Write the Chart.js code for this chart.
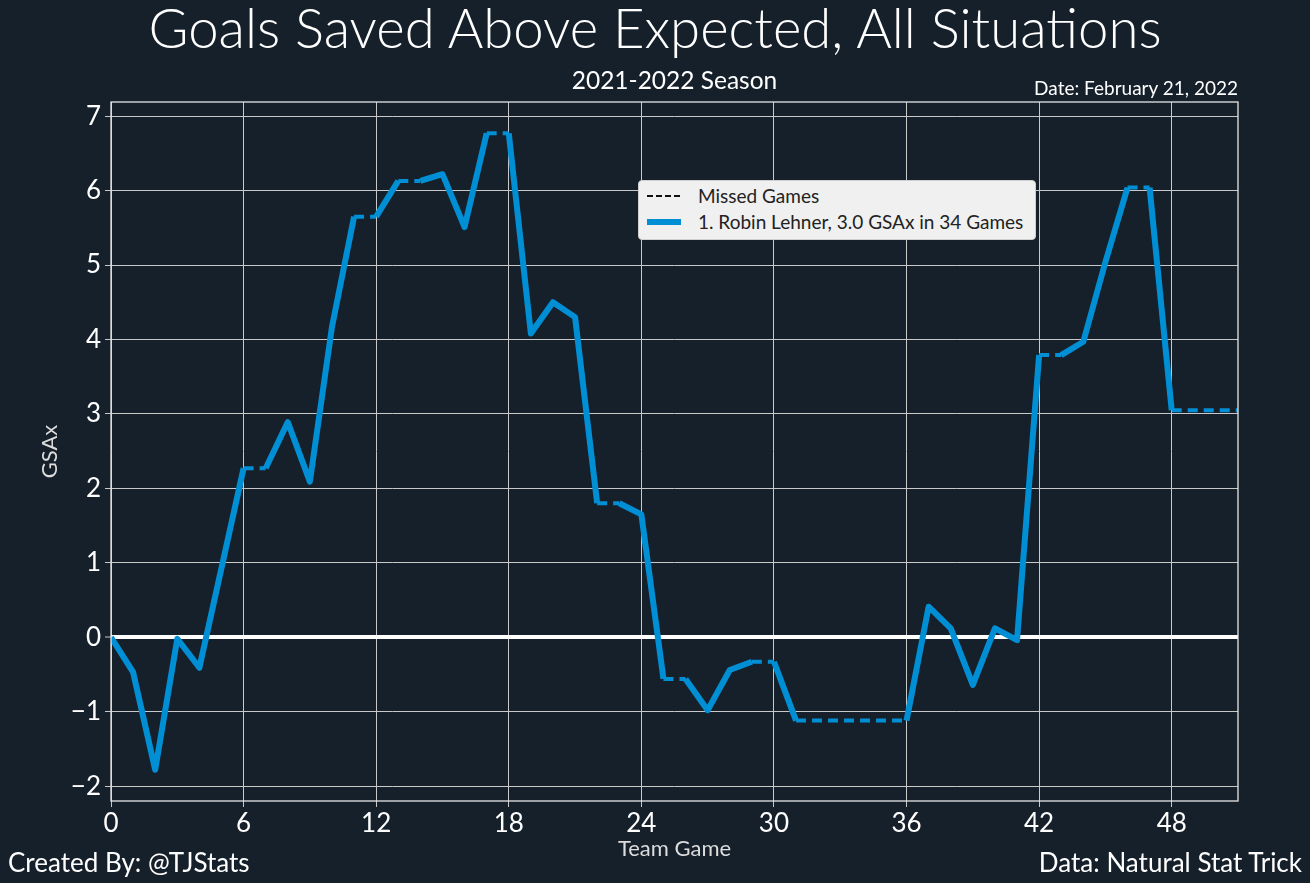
<!DOCTYPE html>
<html>
<head>
<meta charset="utf-8">
<script src="https://cdn.jsdelivr.net/npm/chart.js@4.4.1/dist/chart.umd.min.js"></script>
<style>
    body { margin: 0; background: #16202b; }
    #wrap { position: relative; width: 1310px; height: 883px; font-family: Lato, "DejaVu Sans", sans-serif; color: #fff; }
    #gsaxChart { position: absolute; left: 0; top: 0; }
    .txt { position: absolute; white-space: nowrap; line-height: 1; }
    #legendDiv { position: absolute; left: 638px; top: 180px; width: 396px; height: 58px; background: #f0f0f0; border: 1px solid #cfcfcf; border-radius: 4px; color: #222; font-size: 19px; }
    .legRow { position: absolute; left: 8px; height: 20px; }
    .legRow span { position: absolute; left: 51px; top: 0; white-space: nowrap; line-height: 20px; }
</style>
</head>
<body>
<div id="wrap">
    <canvas id="gsaxChart" width="1310" height="883"></canvas>
    <div class="txt" id="mainTitle" style="left:0; width:1310px; text-align:center; top:0px; font-size:54.5px; font-weight:300;">Goals Saved Above Expected, All Situations</div>
    <div class="txt" style="left:111px; width:1127px; text-align:center; top:68px; font-size:24.5px;">2021-2022 Season</div>
    <div class="txt" style="right:72px; top:78px; font-size:19px;">Date: February 21, 2022</div>
    <div class="txt" style="left:8px; top:849px; font-size:26px;">Created By: @TJStats</div>
    <div class="txt" style="right:8px; top:849px; font-size:26px;">Data: Natural Stat Trick</div>
    <div id="legendDiv"></div>
</div>
<script>
// team game number and cumulative GSAx after that game
const games = [0, 1, 2, 3, 4, 5, 6, 7, 8, 9, 10, 11, 12, 13, 14, 15, 16, 17, 18, 19, 20, 21, 22, 23, 24, 25,
    26, 27, 28, 29, 30, 31, 32, 33, 34, 35, 36, 37, 38, 39, 40, 41, 42, 43, 44, 45, 46, 47, 48, 49, 50, 51]
const gsax = [0, -0.47, -1.78, -0.02, -0.41, 0.93, 2.27, 2.27, 2.89, 2.09, 4.17, 5.65, 5.65, 6.13, 6.13, 6.22,
    5.51, 6.77, 6.77, 4.08, 4.50, 4.30, 1.80, 1.80, 1.65, -0.56, -0.56, -0.98, -0.44, -0.33, -0.33, -1.12,
    -1.12, -1.12, -1.12, -1.12, -1.12, 0.41, 0.12, -0.64, 0.12, -0.04, 3.79, 3.79, 3.97, 5.04, 6.04, 6.04,
    3.05, 3.05, 3.05, 3.05]
const missedGames = [7, 12, 14, 18, 23, 26, 30, 32, 33, 34, 35, 36, 43, 47, 49, 50, 51]
const xTicks = [0, 6, 12, 18, 24, 30, 36, 42, 48]
const yTicks = [-2, -1, 0, 1, 2, 3, 4, 5, 6, 7]
const legendLabels = ['Missed Games', '1. Robin Lehner, 3.0 GSAx in 34 Games']

const blue = '#008fd5'
const gridColor = '#c9c9c9'

window.onload = function () {
    legendBinding()
    chartDraw()
}

function legendBinding() {
    let rows = []
    rows.push(`<div class="legRow" style="top:5px;"><svg width="36" height="20" style="position:absolute;left:0;top:0"><line x1="0" y1="10" x2="34" y2="10" stroke="#111" stroke-width="2" stroke-dasharray="6,3"/></svg><span>${legendLabels[0]}</span></div>`)
    rows.push(`<div class="legRow" style="top:31px;"><svg width="36" height="20" style="position:absolute;left:0;top:0"><line x1="0" y1="10" x2="34" y2="10" stroke="${blue}" stroke-width="6"/></svg><span>${legendLabels[1]}</span></div>`)
    document.getElementById('legendDiv').innerHTML = rows.join('')
}

const frameBorder = {
    id: 'frameBorder',
    afterDraw(chart) {
        const a = chart.chartArea
        const ctx = chart.ctx
        ctx.save()
        ctx.strokeStyle = '#e6e6e6'
        ctx.lineWidth = 1.3
        ctx.strokeRect(a.left, a.top, a.right - a.left, a.bottom - a.top)
        ctx.restore()
    }
}

function chartDraw() {
    const ctx = document.getElementById('gsaxChart').getContext('2d')
    const points = games.map((g, i) => ({ x: g, y: gsax[i] }))

    window.gsaxChart = new Chart(ctx, {
        type: 'line',
        data: {
            datasets: [{
                data: points,
                borderColor: blue,
                borderWidth: 6,
                pointRadius: 0,
                tension: 0,
                borderJoinStyle: 'round',
                segment: {
                    borderDash: c => missedGames.includes(games[c.p1DataIndex]) ? [10, 6] : [],
                    borderWidth: c => missedGames.includes(games[c.p1DataIndex]) ? 4 : 6
                }
            }]
        },
        options: {
            responsive: false,
            animation: false,
            layout: { padding: { left: 0, top: 102, right: 72, bottom: 0 } },
            plugins: {
                legend: { display: false },
                tooltip: { enabled: false }
            },
            scales: {
                x: {
                    type: 'linear',
                    min: 0,
                    max: 51,
                    afterFit: s => { s.height = 82 },
                    afterBuildTicks: s => { s.ticks = xTicks.map(v => ({ value: v })) },
                    ticks: { color: '#fff', font: { family: 'Lato', size: 26 }, padding: 1, maxRotation: 0 },
                    grid: { color: gridColor, lineWidth: 1, tickLength: 6, tickColor: gridColor },
                    border: { display: false },
                    title: { display: true, text: 'Team Game', color: '#ddd', font: { family: 'Lato', size: 22 }, padding: { top: 0, bottom: 21 } }
                },
                y: {
                    min: -2.2,
                    max: 7.19,
                    afterFit: s => { s.width = 111 },
                    afterBuildTicks: s => { s.ticks = yTicks.map(v => ({ value: v })) },
                    ticks: {
                        color: '#fff',
                        font: { family: 'Lato', size: 26 },
                        padding: 4,
                        callback: v => v < 0 ? '\u2212' + Math.abs(v) : v
                    },
                    grid: {
                        color: c => c.tick && c.tick.value === 0 ? '#ffffff' : gridColor,
                        lineWidth: c => c.tick && c.tick.value === 0 ? 4 : 1,
                        tickLength: 6,
                        tickColor: gridColor,
                        tickWidth: 1
                    },
                    border: { display: false },
                    title: { display: true, text: 'GSAx', color: '#ddd', font: { family: 'Lato', size: 22 }, padding: { top: 37, bottom: 0 } }
                }
            }
        },
        plugins: [frameBorder]
    })
}
</script>
</body>
</html>
